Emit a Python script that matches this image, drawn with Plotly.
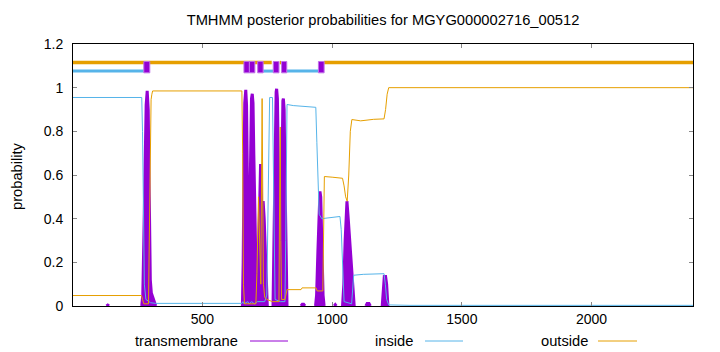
import plotly.graph_objects as go

SEQ_LEN = 2391

# transmembrane posterior (peaks separated by None gaps)
tm_pos = [130, 135, 140, None,
          266, 270, 274, 278, 283, 287, 291, 295, 299, 303, 308, 315, 320, None,
          654, 657, 660, 663, 667, 670, 673, 676, 678, 681, 685, 689, 692, 695, 698, 701, 704, 707, 709, None,
          712, 716, 720, 724, 727, 729, 731, 734, 738, 743, 748, 750, None,
          772, 776, 780, 784, 786, 789, 792, 795, 798, 799, 800, 803, 807, 810, 812, 815, 818, 822, 825, 826, None,
          880, 885, 890, 895, None,
          936, 940, 945, 950, 953, 956, 960, 965, 969, None,
          1008, 1012, 1016, None,
          1040, 1045, 1050, 1055, 1057, 1062, 1070, 1078, 1085, None,
          1130, 1135, 1142, 1147, None,
          1193, 1197, 1201, 1206, 1210, 1215]
tm_val = [0, 0.004, 0, None,
          0, 0.05, 0.3, 0.6, 0.92, 0.985, 0.9, 0.5, 0.12, 0.06, 0.04, 0.02, 0, None,
          0, 0.2, 0.6, 0.93, 0.99, 0.92, 0.6, 0.2, 0.05, 0.3, 0.75, 0.95, 0.972, 0.93, 0.7, 0.45, 0.2, 0.05, 0, None,
          0, 0.25, 0.55, 0.65, 0.5, 0.3, 0.45, 0.48, 0.4, 0.2, 0.03, 0, None,
          0, 0.3, 0.8, 0.98, 0.995, 0.95, 0.7, 0.3, 0.05, 0, 0, 0.3, 0.8, 0.94, 0.95, 0.9, 0.6, 0.2, 0.02, 0, None,
          0, 0.008, 0.008, 0, None,
          0, 0.05, 0.25, 0.5, 0.525, 0.5, 0.25, 0.05, 0, None,
          0, 0.006, 0, None,
          0, 0.1, 0.3, 0.45, 0.48, 0.4, 0.25, 0.1, 0, None,
          0, 0.012, 0.012, 0, None,
          0, 0.1, 0.135, 0.135, 0.1, 0]

inside_pos = [1, 266, 269, 272, 276, 282, 300, 320, 652, 656, 660, 675, 680, 690, 700, 712, 740, 748, 752, 756,
              759, 770, 773, 776, 780, 800, 818, 821, 824, 826, 850, 900, 937, 941, 945, 950, 960, 1000, 1030,
              1035, 1040, 1046, 1075, 1079, 1083, 1120, 1160, 1200, 1205, 1210, 1218, 1300, 2391]
inside_val = [0.955, 0.955, 0.8, 0.4, 0.1, 0.03, 0.015, 0.012, 0.012, 0.02, 0.01, 0.02, 0.01, 0.02, 0.01, 0.02,
              0.02, 0.05, 0.4, 0.9, 0.955, 0.955, 0.6, 0.2, 0.03, 0.02, 0.02, 0.3, 0.8, 0.923, 0.918, 0.915, 0.91,
              0.75, 0.55, 0.42, 0.40, 0.405, 0.41, 0.35, 0.15, 0.02, 0.01, 0.08, 0.141, 0.145, 0.148, 0.148, 0.1,
              0.03, 0.005, 0.003, 0.003]

outside_pos = [1, 265, 269, 274, 292, 296, 299, 302, 305, 308, 652, 655, 658, 662, 706, 710, 716, 720, 725, 728,
               730, 732, 735, 740, 748, 770, 795, 798, 800, 802, 805, 818, 823, 826, 880, 884, 938, 942, 964, 967,
               970, 1000, 1040, 1046, 1052, 1058, 1064, 1070, 1076, 1110, 1130, 1160, 1200, 1206, 1212, 1218, 2391]
outside_val = [0.048, 0.048, 0.03, 0.01, 0.01, 0.4, 0.9, 0.945, 0.97, 0.985, 0.985, 0.7, 0.1, 0.01, 0.01, 0.15,
               0.5, 0.35, 0.1, 0.6, 0.95, 0.6, 0.1, 0.04, 0.03, 0.02, 0.02, 0.6, 0.82, 0.3, 0.03, 0.03, 0.07, 0.075,
               0.075, 0.083, 0.083, 0.069, 0.069, 0.3, 0.593, 0.59, 0.585, 0.55, 0.5, 0.48, 0.6, 0.8, 0.854, 0.848,
               0.852, 0.855, 0.857, 0.9, 0.97, 1.0, 1.0]

# predicted topology (top of plot)
tm_segments = [(274, 297), (660, 681), (681, 702), (713, 734), (773, 795), (805, 825), (947, 969)]
inside_segments = [(1, 274), (734, 773), (825, 947)]
outside_segments = [(1, 767), (798, 803), (969, 2391)]
TOP_OUT_Y = 1.115
TOP_IN_Y = 1.076
BOX_Y = (1.068, 1.12)

PURPLE = "#9400D3"
BLUE = "#56B4E9"
ORANGE = "#E69F00"
FONT = "Liberation Sans"
TXT = 14.7

fig = go.Figure()

fig.add_trace(go.Scatter(x=tm_pos, y=tm_val, mode="lines", fill="tozeroy",
                         line=dict(color=PURPLE, width=3), fillcolor=PURPLE,
                         connectgaps=False, hoverinfo="skip"))
fig.add_trace(go.Scatter(x=inside_pos, y=inside_val, mode="lines",
                         line=dict(color=BLUE, width=1), hoverinfo="skip"))
fig.add_trace(go.Scatter(x=outside_pos, y=outside_val, mode="lines",
                         line=dict(color=ORANGE, width=1), hoverinfo="skip"))

# topology lines
ox, oy = [], []
for a, b in outside_segments:
    ox += [a, b, None]
    oy += [TOP_OUT_Y, TOP_OUT_Y, None]
fig.add_trace(go.Scatter(x=ox, y=oy, mode="lines", line=dict(color=ORANGE, width=3.5), hoverinfo="skip"))
ix, iy = [], []
for a, b in inside_segments:
    ix += [a, b, None]
    iy += [TOP_IN_Y, TOP_IN_Y, None]
fig.add_trace(go.Scatter(x=ix, y=iy, mode="lines", line=dict(color=BLUE, width=3), hoverinfo="skip"))
bx, by = [], []
for a, b in tm_segments:
    bx += [a, b, b, a, a, None]
    by += [BOX_Y[0], BOX_Y[0], BOX_Y[1], BOX_Y[1], BOX_Y[0], None]
fig.add_trace(go.Scatter(x=bx, y=by, mode="lines", fill="toself", fillcolor=PURPLE,
                         line=dict(color="#C070E8", width=1), hoverinfo="skip"))

L, R, T, B = 73, 27, 44, 46
W, H = 720, 352
pw, ph = W - L - R, H - T - B

def px_x(px):
    return (px - L) / pw

def px_y(py):
    return (H - B - py) / ph

annotations = [
    dict(text="probability", x=px_x(17), y=px_y(176), xref="paper", yref="paper",
         xanchor="center", yanchor="middle",
         textangle=-90, showarrow=False, font=dict(family=FONT, size=TXT, color="black")),
]
shapes = []
legend_items = [("transmembrane", PURPLE, 240, 250, 288),
                ("inside", BLUE, 415, 425, 463),
                ("outside", ORANGE, 590, 598, 637)]
for name, col, tx, l0, l1 in legend_items:
    annotations.append(dict(text=name, x=px_x(tx), y=px_y(341), xref="paper", yref="paper",
                            xanchor="right", yanchor="middle", showarrow=False,
                            font=dict(family=FONT, size=TXT, color="black")))
    shapes.append(dict(type="line", xref="paper", yref="paper", x0=px_x(l0), x1=px_x(l1),
                       y0=px_y(341), y1=px_y(341), line=dict(color=col, width=1)))

fig.update_layout(
    width=W, height=H,
    margin=dict(l=L, r=R, t=T, b=B),
    paper_bgcolor="white", plot_bgcolor="white",
    showlegend=False,
    title=dict(text="TMHMM posterior probabilities for MGYG000002716_00512",
               x=px_x(383), xref="paper", xanchor="center",
               y=1 - 20 / H, yref="container", yanchor="middle",
               font=dict(family=FONT, size=TXT, color="black")),
    font=dict(family=FONT, size=14, color="black"),
    annotations=annotations,
    shapes=shapes,
)
fig.update_xaxes(range=[1, SEQ_LEN], tickvals=[500, 1000, 1500, 2000], ticks="inside", ticklen=4,
                 tickcolor="#888", showline=True, linecolor="black", linewidth=1, mirror="ticks",
                 showgrid=False, zeroline=False, tickfont=dict(family=FONT, size=14))
fig.update_yaxes(range=[0, 1.2], dtick=0.2, tick0=0, ticks="inside", ticklen=4,
                 tickcolor="#888", showline=True, linecolor="black", linewidth=1, mirror="ticks",
                 showgrid=False, zeroline=False, tickfont=dict(family=FONT, size=14),
                 ticklabelstandoff=6)

fig.write_html("out.html")
